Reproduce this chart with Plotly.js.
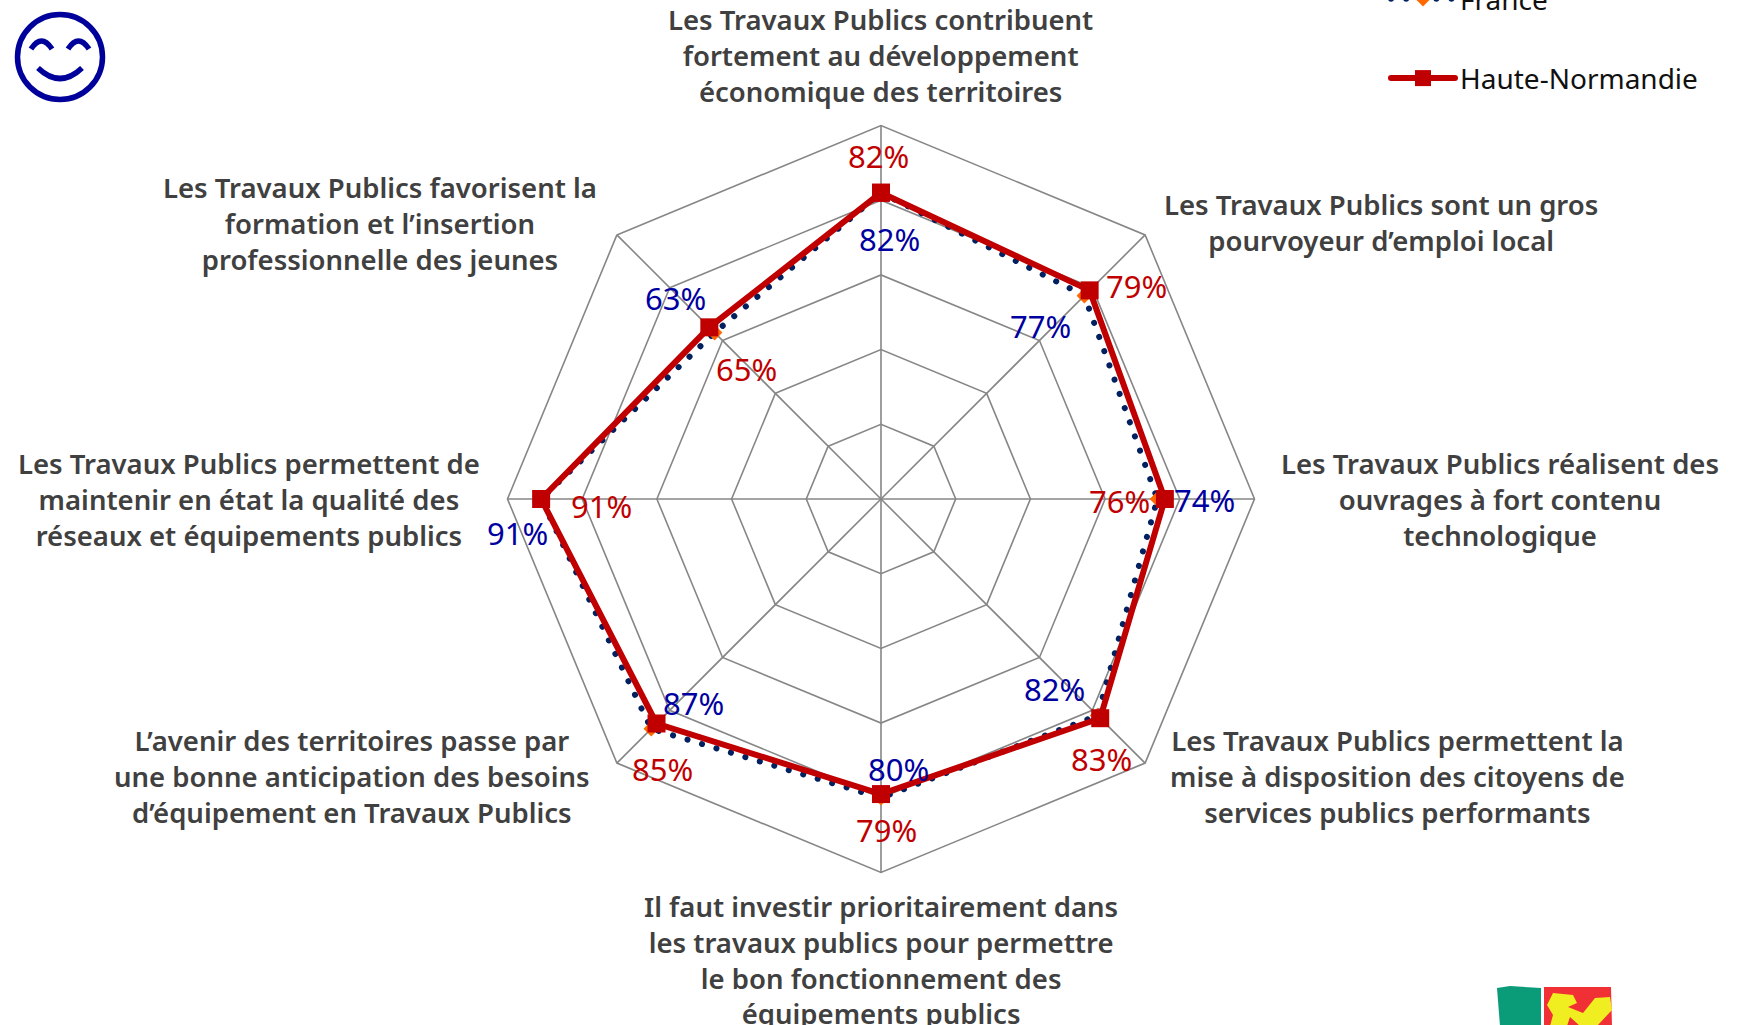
<!DOCTYPE html>
<html><head><meta charset="utf-8">
<script src="https://cdn.plot.ly/plotly-3.0.1.min.js"></script>
<style>html,body{margin:0;padding:0;background:#fff}#c{width:1746px;height:1025px}</style></head>
<body><div id="c"></div>
<script>
const categories = [
 "Les Travaux Publics contribuent<br>fortement au développement<br>économique des territoires",
 "Les Travaux Publics sont un gros<br>pourvoyeur d’emploi local",
 "Les Travaux Publics réalisent des<br>ouvrages à fort contenu<br>technologique",
 "Les Travaux Publics permettent la<br>mise à disposition des citoyens de<br>services publics performants",
 "Il faut investir prioritairement dans<br>les travaux publics pour permettre<br>le bon fonctionnement des<br>équipements publics",
 "L’avenir des territoires passe par<br>une bonne anticipation des besoins<br>d’équipement en Travaux Publics",
 "Les Travaux Publics permettent de<br>maintenir en état la qualité des<br>réseaux et équipements publics",
 "Les Travaux Publics favorisent la<br>formation et l’insertion<br>professionnelle des jeunes"
];
const france = [82,77,74,82,80,87,91,63];
const hauteNormandie = [82,79,76,83,79,85,91,65];

const W=1746,H=1025,k=1746/1568;
const px=x=>x/W, py=y=>1-y/H;
// label centres, px of the shrunk reference
const catPos=[[791,50],[1240,200],[1347,449],[1255,697],[791,862],[316,697],[224,449],[341,201]];
const redPos=[[789,140],[1021,257],[1005,450],[989,682],[796,745],[595,691],[540,454],[670,331]];
const bluePos=[[799,215],[934,293],[1082,449],[947,619],[807,691],[623,631],[465,479],[607,268]];
const close=a=>a.concat([a[0]]);
const labelFont='"Noto Sans", sans-serif';

const annotations=[];
categories.forEach((c,i)=>annotations.push({xref:'paper',yref:'paper',x:px(catPos[i][0]*k),y:py(catPos[i][1]*k),xanchor:'center',yanchor:'middle',showarrow:false,align:'center',text:c,font:{family:labelFont,size:27.5,color:'#404040',weight:600}}));
hauteNormandie.forEach((v,i)=>annotations.push({xref:'paper',yref:'paper',x:px(redPos[i][0]*k),y:py(redPos[i][1]*k),xanchor:'center',yanchor:'middle',showarrow:false,text:v+'%',font:{family:labelFont,size:31,color:'#c00000'}}));
france.forEach((v,i)=>annotations.push({xref:'paper',yref:'paper',x:px(bluePos[i][0]*k),y:py(bluePos[i][1]*k),xanchor:'center',yanchor:'middle',showarrow:false,text:v+'%',font:{family:labelFont,size:31,color:'#0000a0'}}));

const P=(pts,z)=>pts.map((p,i)=>(i?'L':'M')+px(p[0])+','+py(p[1])).join(' ')+(z?' Z':'');
const Q=(a,b,c)=>'M'+px(a[0])+','+py(a[1])+' Q'+px(b[0])+','+py(b[1])+' '+px(c[0])+','+py(c[1]);
const smile={color:'#00009a',width:5.5};
const shapes=[
 {type:'circle',xref:'paper',yref:'paper',x0:px(17.5),x1:px(102.5),y0:py(14.5),y1:py(99.5),line:{color:'#00009a',width:5.5}},
 {type:'path',xref:'paper',yref:'paper',path:Q([31,49],[41.5,33],[52,49]),line:smile},
 {type:'path',xref:'paper',yref:'paper',path:Q([68,49],[78.5,33],[89,49]),line:smile},
 {type:'path',xref:'paper',yref:'paper',path:Q([38,68],[60,89],[82,68]),line:smile},
 {type:'path',xref:'paper',yref:'paper',fillcolor:'#0a9b78',line:{width:0},path:P([[1497,988],[1510,986],[1541,988],[1541,1026],[1500,1026]],true)},
 {type:'path',xref:'paper',yref:'paper',fillcolor:'#f03035',line:{width:0},path:P([[1544,987],[1611,987],[1612,1026],[1544,1026]],true)},
 {type:'path',xref:'paper',yref:'paper',fillcolor:'#f0ee20',line:{width:0},path:P([[1547,1005],[1553,993],[1573,995],[1577,1003],[1568,1007],[1583,1013],[1595,998],[1610,997],[1612,1010],[1597,1026],[1580,1026],[1570,1017],[1567,1026],[1550,1026],[1553,1015]],true)}
];

const traces=[
 {type:'scatterpolar',name:'France',legendgroup:'a',r:close(france),theta:close(categories),mode:'lines+markers',
  line:{color:'#002060',width:6,dash:'0.1px,15px'},marker:{symbol:'diamond',size:12,color:'#ff6a00'},hoverinfo:'skip'},
 {type:'scatterpolar',name:'Haute-Normandie',legendgroup:'b',r:close(hauteNormandie),theta:close(categories),mode:'lines+markers',
  line:{color:'#c00000',width:6},marker:{symbol:'square',size:18,color:'#c00000'},hoverinfo:'skip'}
];
const grid='#868686';
const layout={width:W,height:H,margin:{l:0,r:0,t:0,b:0,autoexpand:false},paper_bgcolor:'#fff',showlegend:true,
 legend:{x:px(1386),y:py(-26),xanchor:'left',yanchor:'top',itemwidth:64,tracegroupgap:40,bgcolor:'rgba(0,0,0,0)',font:{family:labelFont,size:28,color:'#111'}},
 polar:{domain:{x:[px(507.5),px(1254.5)],y:[py(872.5),py(125.5)]},gridshape:'linear',bgcolor:'#fff',
  radialaxis:{range:[0,100],tick0:0,dtick:20,showticklabels:false,ticks:'',showline:false,gridcolor:grid,gridwidth:1.6,angle:90},
  angularaxis:{type:'category',categoryorder:'array',categoryarray:categories,direction:'clockwise',rotation:90,showticklabels:false,ticks:'',linecolor:grid,linewidth:1.6,gridcolor:grid,gridwidth:1.6}},
 annotations,shapes};
Plotly.newPlot('c',traces,layout,{displayModeBar:false,staticPlot:true}).then(()=>{
 document.querySelectorAll('.js-line').forEach(e=>{e.style.strokeLinecap='round';});
});
</script></body></html>
